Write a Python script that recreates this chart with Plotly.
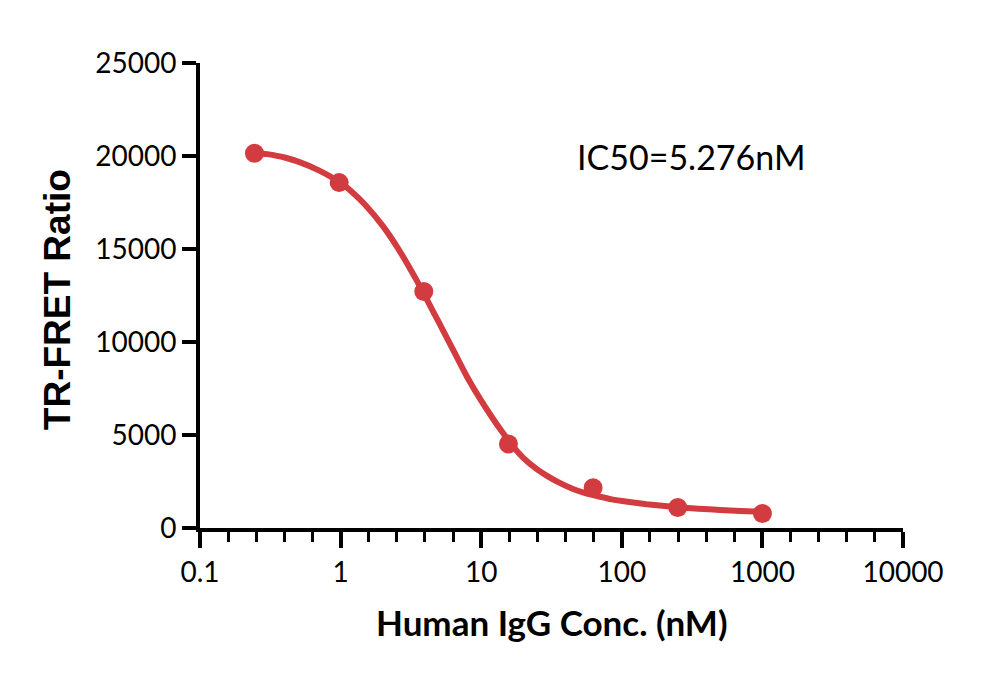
import plotly.graph_objects as go

# Measured points
conc = [0.244, 0.977, 3.906, 15.625, 62.5, 250, 1000]
ratio = [20150, 18570, 12720, 4520, 2160, 1100, 780]

# Fitted curve
curve_x = [0.244, 0.3, 0.4, 0.5, 0.7, 1.0, 1.2, 1.5, 2.0, 2.5, 3.0, 3.5, 4.0, 5.0, 6.0, 7.0, 8.0,
           10, 12, 14, 17, 20, 25, 30, 35, 45, 55, 70, 85, 110, 150, 250, 350, 500, 700, 1000]
curve_y = [20180, 20100, 19920, 19700, 19230, 18560, 18080, 17370, 16230, 15160, 14170, 13270, 12450,
           11050, 9900, 8920, 8080, 6850, 5930, 5200, 4350, 3760, 3150, 2760, 2480, 2100, 1880,
           1680, 1540, 1410, 1280, 1120, 1040, 970, 920, 880]

x_tickvals = [0.1, 1, 10, 100, 1000, 10000]
x_ticktext = ["0.1", "1", "10", "100", "1000", "10000"]
y_tickvals = [0, 5000, 10000, 15000, 20000, 25000]
y_ticktext = ["0", "5000", "10000", "15000", "20000", "25000"]

red = "#D23B3F"

fig = go.Figure()
fig.add_trace(go.Scatter(x=curve_x, y=curve_y, mode="lines",
                         line=dict(color=red, width=6, shape="spline", smoothing=0.5),
                         showlegend=False, hoverinfo="skip"))
fig.add_trace(go.Scatter(x=conc, y=ratio, mode="markers",
                         marker=dict(color=red, size=19, line=dict(width=0)),
                         showlegend=False))

fig.update_layout(
    width=1000, height=675,
    margin=dict(l=192, r=105, t=55, b=155),
    paper_bgcolor="white", plot_bgcolor="white",
    font=dict(family="Lato", color="black"),
    xaxis=dict(type="log", range=[-1, 4], tickvals=x_tickvals, ticktext=x_ticktext,
               showline=True, linecolor="black", linewidth=4,
               ticks="outside", ticklen=16, tickwidth=4, tickcolor="black",
               minor=dict(dtick=0.2, ticks="outside", ticklen=10, tickwidth=3, tickcolor="black", showgrid=False),
               showgrid=False, zeroline=False,
               tickfont=dict(family="Lato", size=28, color="black")),
    yaxis=dict(range=[0, 25000], tickvals=y_tickvals, ticktext=y_ticktext,
               showline=True, linecolor="black", linewidth=4,
               ticks="outside", ticklen=14, tickwidth=4, tickcolor="black",
               showgrid=False, zeroline=False,
               tickfont=dict(family="Lato", size=28, color="black")),
    annotations=[
        dict(text="IC50=5.276nM", xref="paper", yref="paper", x=0.533, y=0.798,
             xanchor="left", yanchor="middle", showarrow=False,
             font=dict(family="Lato", size=34, color="black")),
        dict(text="<b>TR-FRET Ratio</b>", xref="paper", yref="paper", x=-0.2034, y=0.49,
             xanchor="center", yanchor="middle", textangle=-90, showarrow=False,
             font=dict(family="Liberation Sans", size=37, color="black")),
        dict(text="<b>Human IgG Conc. (nM)</b>", xref="paper", yref="paper", x=0.5, y=-0.202,
             xanchor="center", yanchor="middle", showarrow=False,
             font=dict(family="Lato", size=35, color="black")),
    ],
)

fig.write_html("out.html")
